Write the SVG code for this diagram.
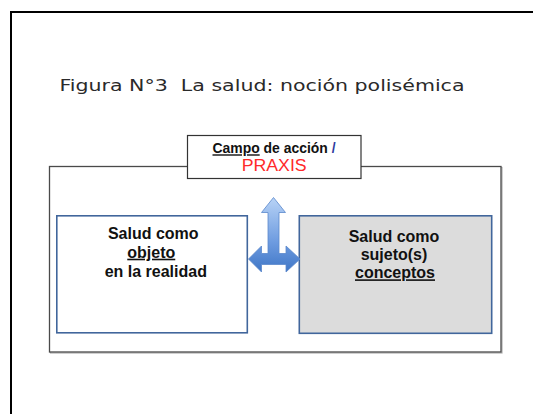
<svg xmlns="http://www.w3.org/2000/svg" width="533" height="414" viewBox="0 0 533 414">
  <defs>
    <linearGradient id="arrowGrad" x1="0" y1="0" x2="0" y2="1">
      <stop offset="0" stop-color="#b8d3f6"/>
      <stop offset="0.6" stop-color="#6d9be0"/>
      <stop offset="1" stop-color="#3f76c6"/>
    </linearGradient>
  </defs>
  <style>
    .bold { font-family: "Liberation Sans", Arial, sans-serif; font-weight: bold; font-size: 16px; fill: #111; }
    .node { stroke: #41669c; stroke-width: 1.6; }
  </style>
  <rect x="0" y="0" width="533" height="414" fill="#ffffff"/>

  <g id="page-frame">
    <path d="M11,414 L11,12 L533,12" fill="none" stroke="#000" stroke-width="2"/>
  </g>

  <g id="title">
    <text x="59.5" y="91" font-family="'DejaVu Sans', Verdana, sans-serif" font-size="15" fill="#2a2a2a" textLength="405" lengthAdjust="spacingAndGlyphs">Figura N°3&#160; La salud: noción polisémica</text>
  </g>

  <g id="frame">
    <rect x="50.5" y="167.5" width="451.5" height="185.5" fill="none" stroke="#b0b0b0" stroke-width="1.2"/>
    <rect x="49.5" y="166.5" width="451.5" height="185.5" fill="#ffffff" stroke="#4a4a4a" stroke-width="1.3"/>
  </g>

  <g id="campo">
    <rect x="187.5" y="135.5" width="173.5" height="43" fill="#ffffff" stroke="#333" stroke-width="1.2"/>
    <text x="212.5" y="153.3" font-family="'Liberation Sans', Arial, sans-serif" font-weight="bold" font-size="14" fill="#111" textLength="123" lengthAdjust="spacingAndGlyphs"><tspan text-decoration="underline">Campo</tspan> de acción <tspan fill="#2e3a9e">/</tspan></text>
    <text x="274.2" y="170.7" text-anchor="middle" font-family="'Liberation Sans', Arial, sans-serif" font-size="16" fill="#ff2a2a" textLength="65" lengthAdjust="spacingAndGlyphs">PRAXIS</text>
  </g>

  <g id="objeto">
    <rect class="node" x="56.8" y="215.8" width="190.5" height="117" fill="#ffffff"/>
    <text class="bold" text-anchor="middle">
      <tspan x="155.5" y="239">Salud como</tspan>
      <tspan x="153.5" y="257.7" text-decoration="underline">objeto</tspan>
      <tspan x="155.8" y="276.7">en la realidad</tspan>
    </text>
  </g>

  <g id="sujeto">
    <rect class="node" x="299.3" y="215.8" width="192.4" height="117.5" fill="#dcdcdc"/>
    <text class="bold" text-anchor="middle">
      <tspan x="396.2" y="241.7">Salud como</tspan>
      <tspan x="396.2" y="260">sujeto(s)</tspan>
      <tspan x="395" y="278.3" text-decoration="underline">conceptos</tspan>
    </text>
  </g>

  <g id="connectors">
    <path d="M273.5,197.5 L285.5,212.5 L279,212.5 L279,253.5 L286,253.5 L286,246 L300,259 L286,272 L286,264.5 L261.5,264.5 L261.5,272 L248.5,259 L261.5,246 L261.5,253.5 L268,253.5 L268,212.5 L261.5,212.5 Z" fill="url(#arrowGrad)" stroke="#5a88cc" stroke-width="0.8" stroke-linejoin="miter"/>
  </g>
</svg>
